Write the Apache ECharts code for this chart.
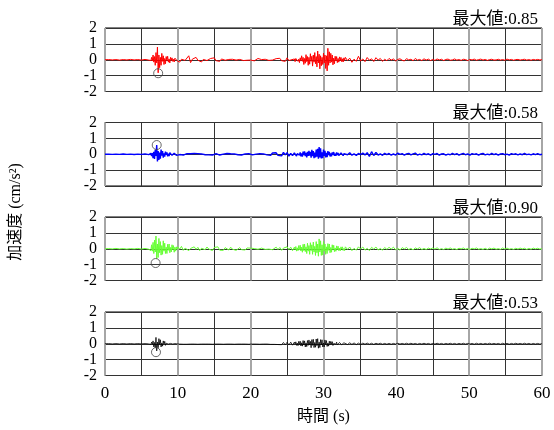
<!DOCTYPE html>
<html><head><meta charset="utf-8">
<script src="https://cdn.jsdelivr.net/npm/echarts@6/dist/echarts.min.js"></script>
<style>html,body{margin:0;padding:0;background:#fff}#c{width:554px;height:430px}</style>
</head><body><div id="c"></div>
<script>
// ---- data ----
const xTicks = [0, 10, 20, 30, 40, 50, 60];
const yTicks = [-2, -1, 0, 1, 2];
const maxLabels = ['最大値:0.85', '最大値:0.58', '最大値:0.90', '最大値:0.53'];
const peakT = [7.3, 7.1, 6.95, 7.0];
const peakV = [-0.85, 0.58, -0.9, -0.53];

// each segment: [start time (s), sample step (s), values (cm/s^2)]
const redPre = [0, 0.5, [0,0.01,-0.01,0.01,-0.02,0.01,-0.01,0.02,-0.01,0.01,-0.02,0.02,-0.02]];
const redB1 = [6.2, 0.1, [0.02,-0.05,0.15,-0.08,0.3,-0.15,0.2,-0.35,0.45,-0.2,0.8,-0.82,0.3,-0.5,0.15,-0.35,0.4,-0.1,0.25,-0.3,0.08,-0.25,0.2,-0.05,0.22,-0.15,0.05,-0.2,0.15,-0.04,0.12,-0.1,0.03,-0.14,0.1,-0.02,0.08,-0.06]];
const redMid = [10, 0.25, [0.05,-0.15,0.03,0.12,-0.04,-0.1,0.25,-0.18,0.04,-0.08,
  0.15,-0.03,0.06,-0.14,0.02,0.1,-0.05,-0.12,0.08,-0.02,
  0.12,-0.06,0.03,-0.1,0.05,0.08,-0.03,-0.09,
  0.02,-0.06,0.03,0.07,-0.02,-0.04,0.02,0.06,-0.05,0.01,
  -0.03,0.05,-0.02,0.02,-0.07,0.03,0.08,-0.02,0.01,-0.05,
  0.03,0.02,-0.04,0.06,-0.02,-0.05,0.07,-0.03,0.09,-0.06,
  0.04,-0.1,0.12,-0.05]];
const redB2 = [26, 0.1, [0.05,-0.12,0.08,-0.03,0.15,-0.1,0.04,-0.18,0.12,-0.06,
  0.25,-0.1,0.15,-0.3,0.08,-0.22,0.32,-0.12,0.2,-0.35,
  0.15,-0.28,0.38,-0.1,0.22,-0.4,0.3,-0.15,0.45,-0.25,
  0.2,-0.45,0.55,-0.2,0.35,-0.57,0.25,-0.38,0.15,-0.3,
  0.42,-0.2,0.3,-0.55,0.25,-0.7,0.72,-0.35,0.5,-0.2,
  0.4,-0.15,0.3,-0.32,0.1,-0.25,0.22,-0.08,0.2,-0.18,
  0.08,-0.15,0.18,-0.05,0.15,-0.12,0.06,-0.14,0.12,-0.04]];
const redTail = [33, 0.3, [0.15,-0.05,0.1,-0.16,0.04,-0.1,0.22,-0.08,0.05,-0.12,
  0.14,-0.03,0.06,-0.11,0.13,-0.02,0.08,-0.1,0.03,-0.06,
  0.08,-0.02,0.05,-0.07,0.02,0.06,-0.03,-0.08,0.07,-0.01,
  0.03,-0.06,0.08,-0.02,0.02,-0.05,0.06,-0.02,0.04,-0.05,
  0.02,-0.04,0.05,-0.01,0.03,-0.05,0.02,0.04,-0.03,-0.01,
  0.05,-0.02,0.01,-0.04,0.03,0.01,-0.05,0.02,-0.01,0.04,
  -0.03,0.01,0.04,-0.02,0.02,-0.04,0.01,0.03,-0.02,-0.01,
  0.03,-0.02,0.01,-0.03,0.04,-0.01,0.02,-0.03,0.01,0.02,
  -0.02,0.01,0.03,-0.02,0.01,-0.03,0.02,-0.01,0.02,-0.01,0]];

const bluePre = [0, 0.5, [0,0.01,-0.01,0.01,-0.01,0.02,-0.01,0.01,-0.02,0.01,-0.01,0.02,-0.02]];
const blueB1 = [6.2, 0.1, [-0.02,0.05,-0.12,0.08,-0.25,0.15,-0.3,0.28,-0.1,0.58,-0.45,0.2,-0.35,0.1,-0.28,0.3,-0.08,0.2,-0.22,0.05,-0.15,0.16,-0.04,0.12,-0.13,0.03,-0.12,0.1,-0.02,0.08,-0.07,0.02,-0.06,0.07,-0.01,0.05,-0.07,0.02]];
const blueMid = [10, 0.25, [0.05,-0.02,0.07,-0.05,0.02,0.04,-0.06,0.03,-0.04,0.05,
  -0.02,0.04,-0.07,0.02,0.05,-0.03,0.06,-0.04,0.01,-0.05,
  0.03,0.04,-0.02,-0.05,0.03,0.01,-0.04,0.05,-0.02,0.03,
  -0.04,0.02,0.04,-0.03,0.01,-0.05,0.03,0.02,-0.03,0.04,
  -0.01,-0.04,0.05,0.01,-0.03,0.04,-0.05,0.02,0.06,-0.04,
  0.02,-0.06,0.08,-0.03,0.09,-0.07,0.03,-0.1,0.12,-0.04,
  0.1,-0.12,0.05,-0.09]];
const blueB2 = [26, 0.1, [0.08,-0.03,0.1,-0.12,0.04,-0.08,0.14,-0.05,0.11,-0.13,
  0.05,-0.15,0.16,-0.06,0.18,-0.12,0.08,-0.2,0.15,-0.1,
  0.22,-0.08,0.15,-0.22,0.28,-0.12,0.2,-0.25,0.1,-0.2,
  0.3,-0.15,0.35,-0.28,0.45,-0.2,0.38,-0.27,0.12,-0.25,
  0.3,-0.1,0.22,-0.2,0.08,-0.18,0.2,-0.06,0.15,-0.14,
  0.05,-0.13,0.12,-0.04,0.14,-0.1,0.03,-0.1,0.11,-0.05,
  0.08,-0.09,0.02,-0.08,0.09,-0.03,0.06,-0.09,0.04,-0.06]];
const blueTail = [33, 0.3, [0.06,-0.03,0.09,-0.06,0.02,-0.07,0.05,-0.02,0.07,-0.04,
  0.1,-0.14,0.16,-0.08,0.12,-0.05,0.03,-0.07,0.06,-0.02,
  0.05,-0.06,0.02,-0.05,0.07,-0.01,0.04,-0.05,0.02,0.06,
  -0.04,0.02,0.07,-0.05,0.01,-0.04,0.06,-0.02,0.03,-0.06,
  0.04,-0.01,0.05,-0.06,0.02,0.03,-0.05,0.01,-0.03,0.06,
  -0.02,0.04,-0.05,0.01,0.06,-0.03,0.02,-0.05,0.04,-0.01,
  0.03,-0.05,0.02,0.05,-0.04,0.01,-0.03,0.06,-0.02,0.03,
  -0.05,0.02,0.04,-0.03,0.01,-0.05,0.04,-0.01,0.03,-0.04,
  0.02,-0.03,0.05,-0.02,0.01,-0.04,0.03,-0.02,0.04,-0.03,0]];

const greenPre = [0, 0.5, [0,0.01,-0.01,0.02,-0.01,0.01,-0.02,0.01,-0.01,0.02,-0.02,0.02,-0.03]];
const greenB1 = [6.2, 0.1, [0.05,-0.12,0.25,-0.15,0.4,-0.3,0.55,-0.2,0.8,-0.62,0.3,-0.55,0.65,-0.25,0.45,-0.4,0.2,-0.35,0.5,-0.15,0.35,-0.3,0.1,-0.3,0.28,-0.1,0.3,-0.25,0.08,-0.2,0.25,-0.05,0.2,-0.22,0.1,-0.15,0.12,-0.04]];
const greenMid = [10, 0.25, [0.12,-0.03,0.15,-0.1,0.04,0.1,-0.12,0.02,-0.08,0.12,
  -0.04,0.09,-0.12,0.03,0.1,-0.06,0.11,-0.02,0.05,-0.11,
  0.08,-0.02,0.12,-0.09,0.03,-0.1,0.07,0.02,-0.08,0.1,
  -0.03,0.08,-0.1,0.02,0.07,-0.06,0.03,-0.08,0.05,-0.02,
  0.04,-0.05,0.01,0.06,-0.03,-0.05,0.04,0.01,-0.04,0.06,
  -0.02,0.07,-0.06,0.02,0.1,-0.05,0.08,-0.1,0.04,-0.08,
  0.12,-0.05,0.1,-0.12]];
const greenB2 = [26, 0.1, [0.1,-0.05,0.14,-0.15,0.06,-0.12,0.2,-0.08,0.22,-0.14,
  0.1,-0.22,0.28,-0.12,0.3,-0.18,0.12,-0.3,0.35,-0.15,
  0.2,-0.35,0.38,-0.12,0.25,-0.35,0.42,-0.2,0.15,-0.42,
  0.45,-0.25,0.3,-0.47,0.62,-0.2,0.5,-0.42,0.25,-0.4,
  0.45,-0.15,0.3,-0.35,0.12,-0.3,0.32,-0.1,0.3,-0.25,
  0.08,-0.22,0.25,-0.06,0.22,-0.18,0.05,-0.16,0.18,-0.05,
  0.16,-0.12,0.04,-0.13,0.12,-0.03,0.12,-0.11,0.02,-0.12]];
const greenTail = [33, 0.3, [0.12,-0.04,0.11,-0.12,0.03,-0.09,0.12,-0.02,0.11,-0.09,
  0.03,-0.12,0.09,-0.02,0.11,-0.08,0.02,-0.09,0.08,-0.04,
  0.09,-0.02,0.1,-0.07,0.03,-0.09,0.07,-0.01,0.08,-0.05,
  0.02,-0.07,0.05,-0.01,0.07,-0.05,0.02,-0.05,0.04,-0.01,
  0.05,-0.02,0.06,-0.05,0.01,-0.05,0.04,-0.02,0.05,-0.03,
  0.01,-0.05,0.03,-0.01,0.05,-0.03,0.02,-0.05,0.03,-0.01,
  0.05,-0.03,0.01,-0.04,0.03,-0.05,0.04,-0.01,0.04,-0.03,
  0.01,-0.04,0.05,-0.02,0.04,-0.03,0.01,-0.04,0.03,-0.02,
  0.04,-0.01,0.03,-0.04,0.02,-0.03,0.04,-0.01,0.03,-0.02,0]];

const blackPre = [0, 0.5, [0,0.01,-0.01,0.01,-0.01,0.01,-0.01,0.01,-0.01,0.01,-0.01,0.01,-0.01]];
const blackB1 = [6.2, 0.1, [0.02,-0.04,0.1,-0.05,0.18,-0.2,0.08,-0.25,0.4,-0.45,0.1,-0.25,0.32,-0.05,0.25,-0.2,0.05,-0.15,0.18,-0.02,0.15,-0.1,0.03,-0.08,0.1,-0.02,0.06,-0.07,0.02,-0.05,0.04,-0.02,0.04,-0.03,0.01,-0.03,0.03,-0.01]];
const blackMid = [10, 0.25, [0.03,-0.02,0.03,-0.03,0.02,-0.03,0.04,-0.02,0.03,-0.02,
  0.02,-0.03,0.03,-0.02,0.02,-0.02,0.03,-0.02,0.02,-0.03,
  0.02,-0.02,0.03,-0.02,0.02,-0.03,0.02,-0.02,0.03,-0.02,
  0.02,-0.03,0.02,-0.02,0.03,-0.02,0.02,-0.02,0.02,-0.03,
  0.02,-0.02,0.03,-0.02,0.02,-0.03,0.02,-0.02,0.03,-0.02,
  0.03,-0.04,0.05,-0.04,0.06,-0.05,0.07,-0.06,0.08,-0.07,
  0.09,-0.08,0.1,-0.09]];
const blackB2 = [26, 0.1, [0.1,-0.03,0.12,-0.1,0.04,-0.12,0.15,-0.05,0.16,-0.14,
  0.06,-0.15,0.2,-0.08,0.18,-0.2,0.05,-0.18,0.2,-0.1,
  0.24,-0.08,0.15,-0.25,0.26,-0.1,0.28,-0.24,0.08,-0.22,
  0.3,-0.12,0.32,-0.28,0.1,-0.24,0.26,-0.08,0.25,-0.2,
  0.05,-0.2,0.24,-0.06,0.2,-0.17,0.04,-0.15,0.16,-0.05,
  0.15,-0.03,0.13,-0.11,0.02,-0.1,0.1,-0.03,0.1,-0.08,
  0.02,-0.07,0.08,-0.01,0.07,-0.06,0.02,-0.05,0.06,-0.02]];
const blackTail = [33, 0.3, [0.06,-0.05,0.06,-0.04,0.05,-0.05,0.04,-0.05,0.04,-0.03,
  0.04,-0.03,0.03,-0.04,0.03,-0.02,0.03,-0.03,0.02,-0.03,
  0.02,-0.03,0.02,-0.02,0.03,-0.02,0.02,-0.02,0.03,-0.02,
  0.03,-0.02,0.02,-0.03,0.02,-0.02,0.03,-0.02,0.02,-0.03,
  0.02,-0.02,0.03,-0.02,0.02,-0.03,0.02,-0.02,0.03,-0.02,
  0.02,-0.03,0.02,-0.02,0.03,-0.02,0.02,-0.02,0.02,-0.03,
  0.03,-0.02,0.02,-0.03,0.02,-0.02,0.03,-0.02,0.02,-0.02,
  0.02,-0.03,0.03,-0.02,0.02,-0.03,0.02,-0.02,0.03,-0.02,
  0.02,-0.02,0.03,-0.02,0.02,-0.03,0.02,-0.02,0.02,-0.02,0]];

const redSegs = [redPre, redB1, redMid, redB2, redTail];
const blueSegs = [bluePre, blueB1, blueMid, blueB2, blueTail];
const greenSegs = [greenPre, greenB1, greenMid, greenB2, greenTail];
const blackSegs = [blackPre, blackB1, blackMid, blackB2, blackTail];

// ---- build ----
function expand(segs) {
  const out = [];
  segs.forEach(([s, dt, vals]) => vals.forEach((v, i) => out.push([+(s + i * dt).toFixed(3), v])));
  return out;
}
const allSegs = [redSegs, blueSegs, greenSegs, blackSegs];
const colors = ['#ff0000', '#0000ff', '#66ff33', '#000000'];
const widths = [1, 1.4, 1, 0.8];
const tops = [28, 122.5, 217, 312];
const H = 63.5;
const serif = '"Liberation Serif","Times New Roman","Noto Sans CJK JP",serif';
const jp = '"Liberation Serif","Noto Sans CJK JP",serif';

const grid = [], xAxis = [], yAxis = [], series = [], title = [];
tops.forEach((t, k) => {
  grid.push({left: 105, width: 437, top: t, height: H, show: true, borderColor: '#000', borderWidth: 1, backgroundColor: 'transparent'});
  const last = k === 3;
  xAxis.push({type: 'value', gridIndex: k, min: 0, max: 60, interval: 5,
    axisLine: {show: false}, axisTick: {show: false},
    axisLabel: {show: last, fontFamily: serif, fontSize: 17, color: '#000', margin: 10,
      formatter: v => xTicks.includes(v) ? String(v) : ''},
    splitLine: {show: true, lineStyle: {color: ['rgba(0,0,0,0)', '#333'], width: 1}},
    name: last ? '時間 (s)' : '', nameLocation: 'middle', nameGap: 33,
    nameTextStyle: {fontFamily: jp, fontSize: 16, color: '#000'}});
  yAxis.push({type: 'value', gridIndex: k, min: yTicks[0], max: yTicks[yTicks.length - 1], interval: 1,
    axisLine: {show: false}, axisTick: {show: false},
    axisLabel: {fontFamily: serif, fontSize: 16, color: '#000', margin: 8},
    splitLine: {show: true, lineStyle: {color: '#333', width: 1}}});
  title.push({text: maxLabels[k], right: 11, top: t - 22,
    textStyle: {fontFamily: jp, fontSize: 17, fontWeight: 'normal', color: '#000'}});
});
tops.forEach((t, k) => {
  xAxis.push({type: 'value', gridIndex: k, min: 0, max: 60, interval: 10,
    axisLine: {show: false}, axisTick: {show: false}, axisLabel: {show: false},
    splitLine: {show: true, lineStyle: {color: '#a6a6a6', width: 2}}});
});
allSegs.forEach((segs, k) => {
  series.push({type: 'line', xAxisIndex: k, yAxisIndex: k, data: expand(segs), showSymbol: false,
    lineStyle: {color: colors[k], width: widths[k]}, z: 3, silent: true});
  series.push({type: 'scatter', xAxisIndex: k, yAxisIndex: k, data: [[peakT[k], peakV[k]]],
    symbol: 'circle', symbolSize: 9,
    itemStyle: {color: 'rgba(0,0,0,0)', borderColor: '#444', borderWidth: 1}, z: 4, silent: true});
});

const chart = echarts.init(document.getElementById('c'), null, {renderer: 'canvas'});
chart.setOption({
  animation: false, backgroundColor: '#fff',
  title, grid, xAxis, yAxis, series,
  graphic: [{type: 'text', x: 16, y: 212, rotation: Math.PI / 2,
    style: {text: '加速度 (cm/s²)', font: '16px ' + jp, fill: '#000', textAlign: 'center', textVerticalAlign: 'middle'}}]
});
</script></body></html>
